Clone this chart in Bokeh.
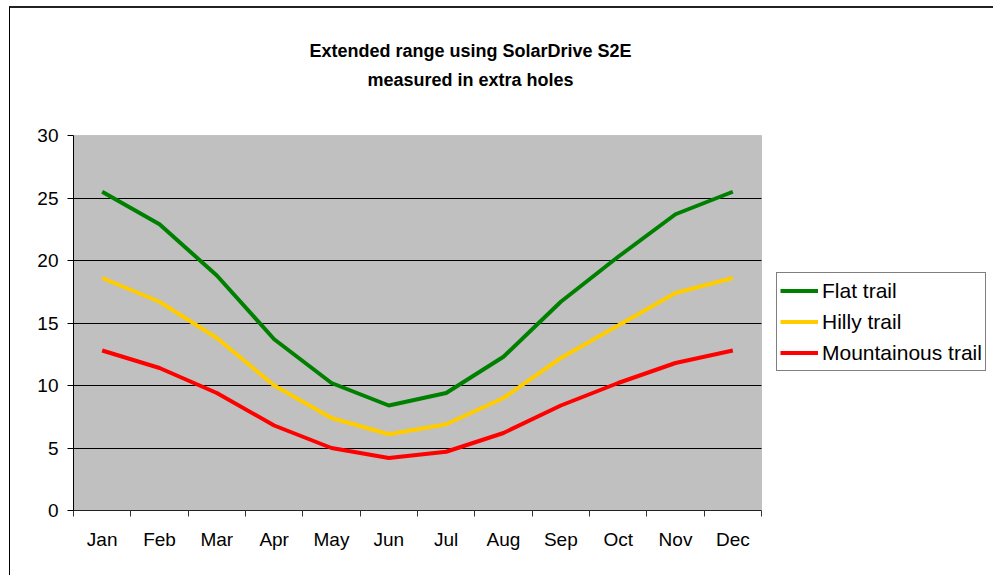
from bokeh.plotting import figure
from bokeh.models import Range1d, FixedTicker, Legend, LegendItem, Label, BoxAnnotation, InlineStyleSheet
from bokeh.embed import file_html
from bokeh.resources import INLINE

months = ["Jan", "Feb", "Mar", "Apr", "May", "Jun", "Jul", "Aug", "Sep", "Oct", "Nov", "Dec"]
flat = [25.5, 22.9, 18.8, 13.7, 10.2, 8.4, 9.4, 12.3, 16.7, 20.3, 23.7, 25.5]
hilly = [18.6, 16.7, 13.8, 10.0, 7.4, 6.1, 6.9, 9.0, 12.2, 14.8, 17.4, 18.6]
mountain = [12.8, 11.4, 9.4, 6.8, 5.0, 4.2, 4.7, 6.2, 8.4, 10.2, 11.8, 12.8]
series_names = ["Flat trail", "Hilly trail", "Mountainous trail"]
series_colors = ["#008000", "#FFCC00", "#FF0000"]
y_ticks = [0, 5, 10, 15, 20, 25, 30]
title_lines = ["Extended range using SolarDrive S2E", "measured in extra holes"]

FONT = "Liberation Sans"
W, H = 993, 575
LEFT, BOTTOM = 73, 65          # pixels for axes
PLOT_RIGHT_PX, PLOT_TOP_PX = 761, 135   # visible plot area edges in the page

n = len(months)
y_max = y_ticks[-1]
x_centers = [i + 0.5 for i in range(n)]
x_bounds = list(range(n + 1))

# the frame spans the whole canvas right of / above the axes; the grey plot area is a box in it
px_per_x = (PLOT_RIGHT_PX - LEFT) / n
px_per_y = ((H - BOTTOM) - PLOT_TOP_PX) / y_max
x_end = (W - LEFT) / px_per_x
y_end = (H - BOTTOM) / px_per_y

frame_css = InlineStyleSheet(css="""
:host::after {
  content: '';
  position: absolute;
  left: 9px; top: 6px; right: 0; bottom: 0;
  border-left: 1px solid #000000;
  border-top: 2px solid #222222;
  pointer-events: none;
}
""")

p = figure(width=W, height=H, output_backend="svg", toolbar_location=None,
           x_range=Range1d(0, x_end), y_range=Range1d(0, y_end),
           min_border_left=LEFT, min_border_right=0, min_border_top=0, min_border_bottom=BOTTOM)
p.stylesheets = [frame_css]
p.background_fill_color = "white"
p.border_fill_color = "white"
p.outline_line_color = None

p.add_layout(BoxAnnotation(left=0, right=n, bottom=0, top=y_max, level="image",
                           fill_color="#C0C0C0", fill_alpha=1,
                           line_color="#808080", line_width=1))

# x axis
p.xaxis.bounds = (0, n)
p.xaxis.ticker = FixedTicker(ticks=x_centers, minor_ticks=x_bounds)
p.xaxis.major_label_overrides = {c: m for c, m in zip(x_centers, months)}
p.xaxis.major_tick_out = 0
p.xaxis.major_tick_in = 0
p.xaxis.minor_tick_out = 6
p.xaxis.minor_tick_in = 0
p.xaxis.minor_tick_line_color = "#333333"
p.xaxis.axis_line_color = "#222222"
p.xaxis.major_label_standoff = 12
p.xaxis.major_label_text_font = FONT
p.xaxis.major_label_text_font_size = "19px"
p.xaxis.major_label_text_color = "black"

# y axis
p.yaxis.bounds = (0, y_max)
p.yaxis.ticker = FixedTicker(ticks=y_ticks, minor_ticks=[])
p.yaxis.major_tick_out = 6
p.yaxis.major_tick_in = 0
p.yaxis.major_tick_line_color = "black"
p.yaxis.axis_line_color = "black"
p.yaxis.major_label_standoff = 9
p.yaxis.major_label_text_font = FONT
p.yaxis.major_label_text_font_size = "19px"
p.yaxis.major_label_text_color = "black"

p.xgrid.visible = False
p.ygrid.ticker = FixedTicker(ticks=y_ticks[1:-1])
p.ygrid.cross_bounds = (0, n)
p.ygrid.grid_line_color = "black"
p.ygrid.grid_line_width = 1

items = []
for name, vals, col in zip(series_names, [flat, hilly, mountain], series_colors):
    r = p.line(x_centers, vals, line_color=col, line_width=4, line_join="round")
    items.append(LegendItem(label=name, renderers=[r]))

legend = Legend(items=items, location=(776 - LEFT, (H - BOTTOM) - 371))
legend.label_text_font = FONT
legend.label_text_font_size = "21px"
legend.label_text_color = "black"
legend.glyph_width = 38
legend.glyph_height = 29
legend.label_height = 29
legend.label_standoff = 4
legend.padding = 3
legend.spacing = 2
legend.margin = 0
legend.border_line_color = "black"
legend.border_line_width = 1
legend.background_fill_color = "white"
legend.background_fill_alpha = 1
p.add_layout(legend, "center")

title_cx = (470 - LEFT) / px_per_x
for txt, base_px in zip(title_lines, [50.5, 79.5]):
    p.add_layout(Label(x=title_cx, y=((H - BOTTOM) - base_px) / px_per_y, text=txt,
                       text_align="center", text_baseline="alphabetic",
                       text_font=FONT, text_font_size="18px", text_font_style="bold",
                       text_color="black"))

open("out.html", "w").write(file_html(p, INLINE))
